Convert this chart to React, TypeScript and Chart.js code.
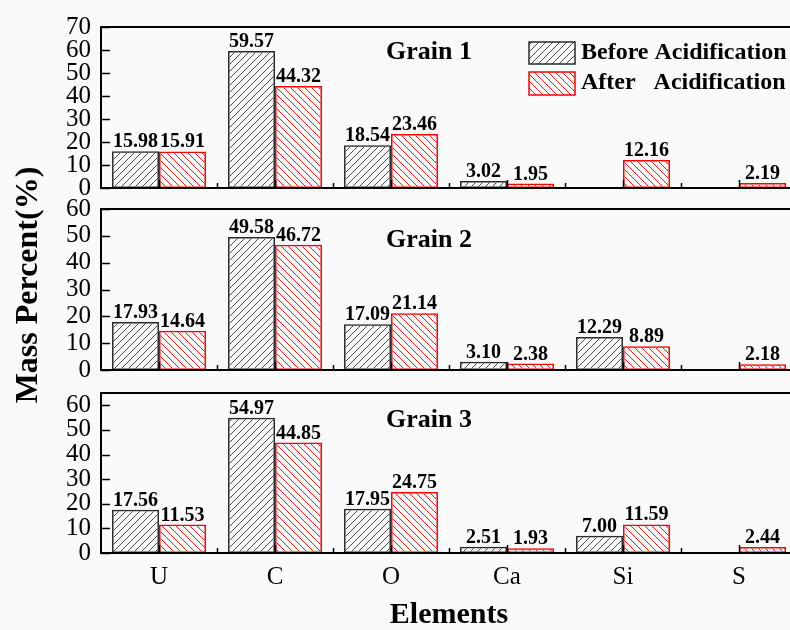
import { useEffect, useRef } from 'react';
import { Chart, registerables } from 'chart.js';

Chart.register(...registerables);

// Elements on the x axis
const categories = ['U', 'C', 'O', 'Ca', 'Si', 'S'];

// Mass percent (%) per grain, before and after acidification
const grain1Before = [15.98, 59.57, 18.54, 3.02, null, null];
const grain1After = [15.91, 44.32, 23.46, 1.95, 12.16, 2.19];
const grain2Before = [17.93, 49.58, 17.09, 3.1, 12.29, null];
const grain2After = [14.64, 46.72, 21.14, 2.38, 8.89, 2.18];
const grain3Before = [17.56, 54.97, 17.95, 2.51, 7.0, null];
const grain3After = [11.53, 44.85, 24.75, 1.93, 11.59, 2.44];

const grainTitles = ['Grain 1', 'Grain 2', 'Grain 3'];
const grainYMax = [70, 60, 65];
const seriesNames = ['Before Acidification', 'After   Acidification'];
const xTitle = 'Elements';
const yTitle = 'Mass Percent(%)';

const SERIF = "'Liberation Serif', 'Times New Roman', serif";
const W = 800;
const H = 630;
const PLOT_LEFT = 101;
const PLOT_RIGHT = 797;
const BLACK_LINE = '#2b2b2b';
const RED = '#ff0000';

type Panel = {
  title: string;
  before: (number | null)[];
  after: (number | null)[];
  yMax: number;
  top: number;
  bottom: number;
  titleBaseline: number;
  showX: boolean;
  legend: boolean;
};

const panels: Panel[] = [
  { title: grainTitles[0], before: grain1Before, after: grain1After, yMax: grainYMax[0], top: 27, bottom: 188, titleBaseline: 59, showX: false, legend: true },
  { title: grainTitles[1], before: grain2Before, after: grain2After, yMax: grainYMax[1], top: 209, bottom: 370, titleBaseline: 247, showX: false, legend: false },
  { title: grainTitles[2], before: grain3Before, after: grain3After, yMax: grainYMax[2], top: 393, bottom: 553, titleBaseline: 427, showX: true, legend: false },
];

function makeHatch(color: string, forward: boolean): CanvasPattern | string {
  const s = 7;
  const c = document.createElement('canvas');
  c.width = s;
  c.height = s;
  const g = c.getContext('2d');
  if (!g) return color;
  g.strokeStyle = color;
  g.lineWidth = 1;
  g.beginPath();
  if (forward) {
    // "/" strokes
    g.moveTo(0, s); g.lineTo(s, 0);
    g.moveTo(-1, 1); g.lineTo(1, -1);
    g.moveTo(s - 1, s + 1); g.lineTo(s + 1, s - 1);
  } else {
    // "\" strokes
    g.moveTo(0, 0); g.lineTo(s, s);
    g.moveTo(-1, s - 1); g.lineTo(1, s + 1);
    g.moveTo(s - 1, -1); g.lineTo(s + 1, 1);
  }
  g.stroke();
  const p = g.createPattern(c, 'repeat');
  return p || color;
}

function PanelChart({ panel }: { panel: Panel }) {
  const ref = useRef<HTMLCanvasElement | null>(null);

  useEffect(() => {
    const canvas = ref.current;
    if (!canvas) return;
    const blackHatch = makeHatch('#4a4a4a', true);
    const redHatch = makeHatch('#ff2020', false);

    const overlay = {
      id: 'panelOverlay',
      afterDatasetsDraw(chart: any) {
        const ctx: CanvasRenderingContext2D = chart.ctx;
        const area = chart.chartArea;
        const xs = chart.scales.x;
        const ys = chart.scales.y;
        ctx.save();

        // value labels above each bar
        ctx.fillStyle = '#000';
        ctx.font = `bold 20px ${SERIF}`;
        ctx.textAlign = 'center';
        ctx.textBaseline = 'alphabetic';
        chart.data.datasets.forEach((ds: any, di: number) => {
          const meta = chart.getDatasetMeta(di);
          meta.data.forEach((el: any, i: number) => {
            const v = ds.data[i];
            if (v === null || v === undefined) return;
            ctx.fillText(Number(v).toFixed(2), el.x, el.y - 4);
          });
        });

        // frame
        ctx.strokeStyle = '#000';
        ctx.lineWidth = 2;
        ctx.strokeRect(area.left, area.top, area.right - area.left, area.bottom - area.top);

        // inward y ticks
        ctx.lineWidth = 1.5;
        ys.ticks.forEach((t: any) => {
          const y = Math.round(ys.getPixelForValue(t.value)) + 0.5;
          ctx.beginPath();
          ctx.moveTo(area.left, y);
          ctx.lineTo(area.left + 9, y);
          ctx.stroke();
        });

        // inward x ticks: major at categories, minor between them
        const centers = categories.map((_, i) => xs.getPixelForValue(i));
        centers.forEach((x: number) => {
          ctx.beginPath();
          ctx.moveTo(Math.round(x) + 0.5, area.bottom);
          ctx.lineTo(Math.round(x) + 0.5, area.bottom - 8);
          ctx.stroke();
        });
        for (let i = 0; i < centers.length - 1; i++) {
          const x = Math.round((centers[i] + centers[i + 1]) / 2) + 0.5;
          ctx.beginPath();
          ctx.moveTo(x, area.bottom);
          ctx.lineTo(x, area.bottom - 5);
          ctx.stroke();
        }

        // panel title
        ctx.fillStyle = '#000';
        ctx.font = `bold 26px ${SERIF}`;
        ctx.textAlign = 'left';
        ctx.textBaseline = 'alphabetic';
        ctx.fillText(panel.title, 386, panel.titleBaseline);

        if (panel.legend) {
          const boxX = 529;
          const boxW = 46;
          const rows = [
            { y: 42, h: 22, fill: blackHatch, stroke: BLACK_LINE, label: seriesNames[0], base: 59 },
            { y: 72, h: 23, fill: redHatch, stroke: RED, label: seriesNames[1], base: 89 },
          ];
          rows.forEach((r) => {
            ctx.fillStyle = r.fill as any;
            ctx.fillRect(boxX, r.y, boxW, r.h);
            ctx.strokeStyle = r.stroke;
            ctx.lineWidth = 1.5;
            ctx.strokeRect(boxX, r.y, boxW, r.h);
            ctx.fillStyle = '#000';
            ctx.font = `bold 24px ${SERIF}`;
            ctx.fillText(r.label, 581, r.base);
          });
        }

        if (panel.showX) {
          ctx.fillStyle = '#000';
          ctx.font = `bold 30px ${SERIF}`;
          ctx.textAlign = 'center';
          ctx.fillText(xTitle, (PLOT_LEFT + PLOT_RIGHT) / 2, 623);

          ctx.save();
          ctx.translate(37, 285);
          ctx.rotate(-Math.PI / 2);
          ctx.font = `bold 32px ${SERIF}`;
          ctx.textAlign = 'center';
          ctx.fillText(yTitle, 0, 0);
          ctx.restore();
        }
        ctx.restore();
      },
    };

    const xScale: any = {
      type: 'category',
      display: panel.showX,
      offset: true,
      grid: { display: false, drawTicks: false },
      border: { display: false },
      ticks: {
        color: '#000',
        font: { family: SERIF, size: 25 },
        padding: 9,
        maxRotation: 0,
        autoSkip: false,
      },
    };
    if (panel.showX) {
      xScale.afterFit = (scale: any) => {
        scale.height = H - panel.bottom;
      };
    }

    const chart = new Chart(canvas, {
      type: 'bar',
      data: {
        labels: categories,
        datasets: [
          {
            label: seriesNames[0],
            data: panel.before,
            backgroundColor: blackHatch as any,
            borderColor: BLACK_LINE,
            borderWidth: 1.5,
            borderSkipped: false,
          },
          {
            label: seriesNames[1],
            data: panel.after,
            backgroundColor: redHatch as any,
            borderColor: RED,
            borderWidth: 1.5,
            borderSkipped: false,
          },
        ],
      },
      options: {
        responsive: false,
        animation: false,
        events: [],
        categoryPercentage: 0.81,
        barPercentage: 1,
        layout: {
          padding: {
            left: 0,
            right: W - PLOT_RIGHT,
            top: panel.top,
            bottom: panel.showX ? 0 : H - panel.bottom,
          },
        },
        plugins: {
          legend: { display: false },
          tooltip: { enabled: false },
        },
        scales: {
          x: xScale,
          y: {
            type: 'linear',
            min: 0,
            max: panel.yMax,
            stacked: false,
            grid: { display: false, drawTicks: false },
            border: { display: false },
            ticks: {
              stepSize: 10,
              includeBounds: false,
              color: '#000',
              font: { family: SERIF, size: 25, lineHeight: 0.8 },
              padding: 10,
            },
            afterFit: (scale: any) => {
              scale.width = PLOT_LEFT;
            },
          },
        },
      },
      plugins: [overlay],
    });

    return () => chart.destroy();
  }, [panel]);

  return (
    <canvas
      ref={ref}
      width={W}
      height={H}
      style={{ position: 'absolute', left: 0, top: 0, width: W, height: H }}
    />
  );
}

export default function App() {
  return (
    <div
      style={{
        position: 'fixed',
        left: 0,
        top: 0,
        width: W,
        height: H,
        overflow: 'hidden',
        background: '#fafafa',
      }}
    >
      {panels.map((p) => (
        <PanelChart key={p.title} panel={p} />
      ))}
    </div>
  );
}
